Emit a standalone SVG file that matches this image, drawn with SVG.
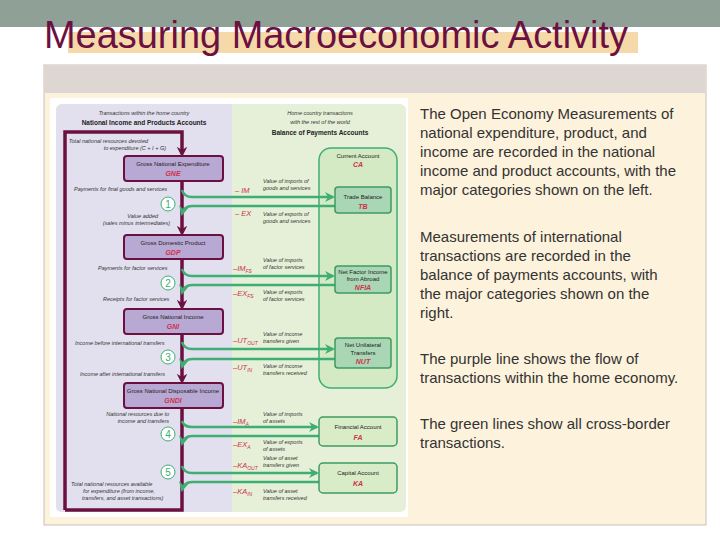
<svg xmlns="http://www.w3.org/2000/svg" width="720" height="540" viewBox="0 0 720 540">
<defs>
<style>
.t{font-family:"Liberation Sans",Arial,sans-serif}
.body{font-family:"Liberation Sans",Arial,sans-serif;font-size:15px;fill:#333}
.s{font-family:"Liberation Sans",Arial,sans-serif;font-size:5.5px;fill:#333;font-style:italic}
.h{font-family:"Liberation Sans",Arial,sans-serif;font-size:6.5px;fill:#222;font-weight:bold;text-anchor:middle}
.bt{font-family:"Liberation Sans",Arial,sans-serif;font-size:6px;fill:#222;text-anchor:middle}
.ab{font-family:"Liberation Sans",Arial,sans-serif;font-size:7px;fill:#d0304a;font-weight:bold;font-style:italic;text-anchor:middle}
.lb{font-family:"Liberation Sans",Arial,sans-serif;font-size:7.5px;fill:#d0304a;font-style:italic}
.pbox{fill:#b7a9d3;stroke:#6b1040;stroke-width:2}
.gbox{fill:#a9d6b4;stroke:#3f9a60;stroke-width:1.5}
.gbox2{fill:#d8ecc8;stroke:#3f9a60;stroke-width:1.5}
.m{fill:none;stroke:#6b1040;stroke-width:3.5}
.g{fill:none;stroke:#3fae72;stroke-width:2.5}
.c{fill:#fff;stroke:#3fae72;stroke-width:1}
.cn{font-family:"Liberation Sans",Arial,sans-serif;font-size:10px;fill:#3fae72;text-anchor:middle}
</style>
<marker id="ma" viewBox="0 0 10 10" refX="5" refY="5" markerWidth="3" markerHeight="3" orient="auto"><path d="M0,0 L10,5 L0,10 L3,5 z" fill="#6b1040"/></marker>
<marker id="ga" viewBox="0 0 10 10" refX="8" refY="5" markerWidth="4" markerHeight="4" orient="auto"><path d="M0,0 L10,5 L0,10 L3,5 z" fill="#3fae72"/></marker>
</defs>
<rect width="720" height="540" fill="#fff"/>
<rect width="720" height="27" fill="#8fa097"/>
<rect x="68" y="32" width="570" height="21" fill="#f5d9a8"/>
<text x="44" y="48" class="t" font-size="38" fill="#6b1040" textLength="584" lengthAdjust="spacingAndGlyphs">Measuring Macroeconomic Activity</text>
<rect x="44" y="65" width="662" height="460" fill="#fdf2dc" stroke="#c8c0bb"/>
<rect x="45" y="66" width="660" height="27" fill="#ddd6d2"/>
<rect x="50" y="98" width="358" height="419" fill="#fff"/>
<rect x="56" y="104" width="350" height="408" rx="6" fill="#e6f0d8"/>
<path d="M62,104 H232 V512 H62 A6,6 0 0 1 56,506 V110 A6,6 0 0 1 62,104 z" fill="#e2e0ef"/>
<g id="headers">
<text x="144" y="115" class="s" text-anchor="middle">Transactions within the home country</text>
<text x="144" y="125" class="h">National Income and Products Accounts</text>
<text x="320" y="115" class="s" text-anchor="middle">Home country transactions</text>
<text x="320" y="124" class="s" text-anchor="middle">with the rest of the world</text>
<text x="320" y="135" class="h">Balance of Payments Accounts</text>
</g>
<g id="ca"><rect x="319" y="148" width="78" height="240" rx="12" fill="#d4eac4" stroke="#3fae72" stroke-width="1.5"/>
<text x="358" y="158" class="bt">Current Account</text><text x="358" y="167" class="ab">CA</text></g>
<g id="connectors">
<path class="m" d="M65,510 V132 H182 V152" marker-end="url(#ma)"/>
<path class="m" d="M182,181 V231" marker-end="url(#ma)"/>
<path class="m" d="M182,259 V305" marker-end="url(#ma)"/>
<path class="m" d="M182,334 V379" marker-end="url(#ma)"/>
<path class="m" d="M182,408 V510 H65"/>
<path class="g" d="M182,190 Q184,197 192,197 H333" marker-end="url(#ga)"/>
<path class="g" d="M335,206 H192 Q184,206 182,214" marker-end="url(#ga)"/>
<path class="g" d="M182,269 Q184,276 192,276 H333" marker-end="url(#ga)"/>
<path class="g" d="M335,285 H192 Q184,285 182,293" marker-end="url(#ga)"/>
<path class="g" d="M182,342 Q184,349 192,349 H333" marker-end="url(#ga)"/>
<path class="g" d="M335,359 H192 Q184,359 182,367" marker-end="url(#ga)"/>
<path class="g" d="M182,421 Q184,427 192,427 H317" marker-end="url(#ga)"/>
<path class="g" d="M319,436 H192 Q184,436 182,444" marker-end="url(#ga)"/>
<path class="g" d="M182,466 Q184,473 192,473 H317" marker-end="url(#ga)"/>
<path class="g" d="M319,482 H192 Q184,482 182,490" marker-end="url(#ga)"/>
</g>
<g id="gne"><rect class="pbox" x="124" y="156" width="99" height="25" rx="3"/><text x="173" y="166" class="bt">Gross National Expenditure</text><text x="173" y="176" class="ab">GNE</text></g>
<g id="gdp"><rect class="pbox" x="124" y="235" width="99" height="24" rx="3"/><text x="173" y="245" class="bt">Gross Domestic Product</text><text x="173" y="255" class="ab">GDP</text></g>
<g id="gni"><rect class="pbox" x="124" y="309" width="99" height="25" rx="3"/><text x="173" y="319" class="bt">Gross National Income</text><text x="173" y="329" class="ab">GNI</text></g>
<g id="gndi"><rect class="pbox" x="124" y="383" width="99" height="25" rx="3"/><text x="173" y="393" class="bt">Gross National Disposable Income</text><text x="173" y="403" class="ab">GNDI</text></g>
<g id="tb"><rect class="gbox" x="335" y="187" width="56" height="26" rx="3"/><text x="363" y="199" class="bt">Trade Balance</text><text x="363" y="209" class="ab">TB</text></g>
<g id="nfia"><rect class="gbox" x="335" y="266" width="56" height="27" rx="3"/><text x="363" y="274" class="bt">Net Factor Income</text><text x="363" y="281" class="bt">from Abroad</text><text x="363" y="290" class="ab">NFIA</text></g>
<g id="nut"><rect class="gbox" x="335" y="338" width="56" height="30" rx="3"/><text x="363" y="347" class="bt">Net Unilateral</text><text x="363" y="355" class="bt">Transfers</text><text x="363" y="364" class="ab">NUT</text></g>
<g id="fa"><rect class="gbox2" x="319" y="417" width="78" height="29" rx="4"/><text x="358" y="429" class="bt">Financial Account</text><text x="358" y="440" class="ab">FA</text></g>
<g id="ka"><rect class="gbox2" x="319" y="463" width="78" height="30" rx="4"/><text x="358" y="475" class="bt">Capital Account</text><text x="358" y="486" class="ab">KA</text></g>
<g id="circles">
<circle class="c" cx="168" cy="204" r="7"/><text x="168" y="208" class="cn">1</text>
<circle class="c" cx="168" cy="283" r="7"/><text x="168" y="287" class="cn">2</text>
<circle class="c" cx="168" cy="357" r="7"/><text x="168" y="361" class="cn">3</text>
<circle class="c" cx="168" cy="434" r="7"/><text x="168" y="438" class="cn">4</text>
<circle class="c" cx="168" cy="472" r="7"/><text x="168" y="476" class="cn">5</text>
</g>
<g id="leftlabels">
<text x="148" y="143" class="s" text-anchor="end">Total national resources devoted</text>
<text x="166" y="150" class="s" text-anchor="end">to expenditure  (C + I + G)</text>
<text x="74" y="191" class="s">Payments for final goods and services</text>
<text x="158" y="218" class="s" text-anchor="end">Value added</text>
<text x="170" y="225" class="s" text-anchor="end">(sales minus intermediates)</text>
<text x="98" y="270" class="s">Payments for factor services</text>
<text x="103" y="301" class="s">Receipts for factor services</text>
<text x="75" y="345" class="s">Income before international transfers</text>
<text x="80" y="376" class="s">Income after international transfers</text>
<text x="169" y="416" class="s" text-anchor="end">National resources due to</text>
<text x="169" y="423" class="s" text-anchor="end">income and transfers</text>
<text x="71" y="486" class="s">Total national resources available</text>
<text x="83" y="493" class="s">for expenditure (from income,</text>
<text x="82" y="500" class="s">transfers, and asset transactions)</text>
</g>
<g id="flowlabels">
<text x="235" y="193" class="lb">– IM</text>
<text x="235" y="216" class="lb">– EX</text>
<text x="233" y="271" class="lb">–IM<tspan font-size="5" dy="2">FS</tspan></text>
<text x="233" y="296" class="lb">–EX<tspan font-size="5" dy="2">FS</tspan></text>
<text x="233" y="343" class="lb">–UT<tspan font-size="5" dy="2">OUT</tspan></text>
<text x="233" y="370" class="lb">–UT<tspan font-size="5" dy="2">IN</tspan></text>
<text x="233" y="424" class="lb">–IM<tspan font-size="5" dy="2">A</tspan></text>
<text x="233" y="447" class="lb">–EX<tspan font-size="5" dy="2">A</tspan></text>
<text x="233" y="468" class="lb">–KA<tspan font-size="5" dy="2">OUT</tspan></text>
<text x="233" y="494" class="lb">–KA<tspan font-size="5" dy="2">IN</tspan></text>
<text x="263" y="183" class="s">Value of imports of</text><text x="263" y="190" class="s">goods and services</text>
<text x="263" y="216" class="s">Value of exports of</text><text x="263" y="223" class="s">goods and services</text>
<text x="263" y="262" class="s">Value of imports</text><text x="263" y="269" class="s">of factor services</text>
<text x="263" y="294" class="s">Value of exports</text><text x="263" y="301" class="s">of factor services</text>
<text x="263" y="336" class="s">Value of income</text><text x="263" y="343" class="s">transfers given</text>
<text x="263" y="368" class="s">Value of income</text><text x="263" y="375" class="s">transfers received</text>
<text x="263" y="416" class="s">Value of imports</text><text x="263" y="423" class="s">of assets</text>
<text x="263" y="444" class="s">Value of exports</text><text x="263" y="451" class="s">of assets</text>
<text x="263" y="460" class="s">Value of asset</text><text x="263" y="467" class="s">transfers given</text>
<text x="263" y="493" class="s">Value of asset</text><text x="263" y="500" class="s">transfers received</text>
</g>
<g id="bodytext">
<text x="420" y="119" class="body">The Open Economy  Measurements of</text>
<text x="420" y="138" class="body">national expenditure, product, and</text>
<text x="420" y="157" class="body">income are recorded in the national</text>
<text x="420" y="176" class="body">income and product accounts, with the</text>
<text x="420" y="195" class="body">major categories shown on the left.</text>
<text x="420" y="242" class="body">Measurements of international</text>
<text x="420" y="261" class="body">transactions are recorded in the</text>
<text x="420" y="280" class="body">balance of payments accounts, with</text>
<text x="420" y="299" class="body">the major categories shown on the</text>
<text x="420" y="318" class="body">right.</text>
<text x="420" y="364" class="body">The purple line shows the flow of</text>
<text x="420" y="383" class="body">transactions within the home economy.</text>
<text x="420" y="429" class="body">The green lines show all cross-border</text>
<text x="420" y="448" class="body">transactions.</text>
</g>
</svg>
